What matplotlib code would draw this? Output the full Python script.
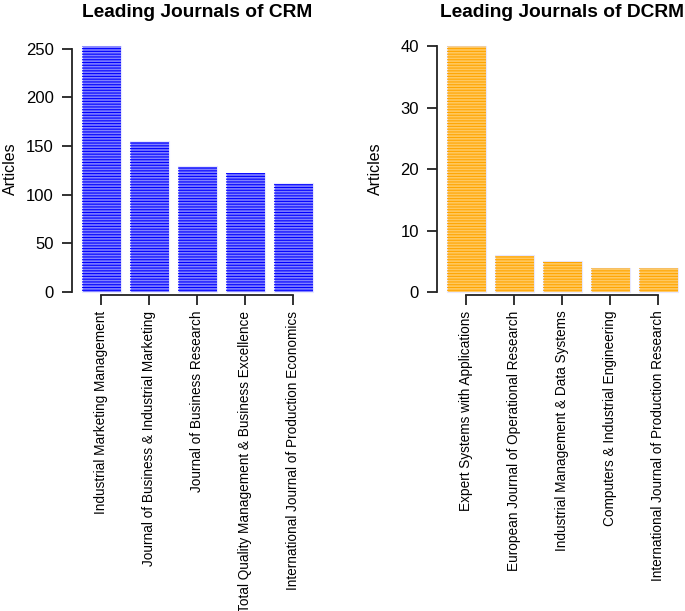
import numpy as np
import matplotlib.pyplot as plt

plt.rcParams['font.family'] = ['Liberation Sans', 'DejaVu Sans']
plt.rcParams['hatch.linewidth'] = 0.8

crm_journals = ["Industrial Marketing Management",
                "Journal of Business & Industrial Marketing",
                "Journal of Business Research",
                "Total Quality Management & Business Excellence",
                "International Journal of Production Economics"]
crm_articles = [253, 155, 130, 122, 112]

dcrm_journals = ["Expert Systems with Applications",
                 "European Journal of Operational Research",
                 "Industrial Management & Data Systems",
                 "Computers & Industrial Engineering",
                 "International Journal of Production Research"]
dcrm_articles = [40, 6, 5, 4, 4]

W, H = 685, 611
fig = plt.figure(figsize=(W / 100, H / 100), dpi=100)


def panel(left_px, names, values, title, face, line, ylim, yticks):
    ax = fig.add_axes([left_px / W, 1 - 294 / H, 250.6 / W, 251 / H])
    x = np.arange(len(values))
    # light fill first, then dense horizontal shading lines on top
    ax.bar(x, values, width=0.81, color=face, edgecolor="#e8e8ff", linewidth=0.8)
    ax.bar(x, values, width=0.81, fill=False, edgecolor=line, linewidth=0,
           hatch="------")
    ax.set_xlim(-0.61, 4.61)
    ax.set_ylim(*ylim)
    for s in ["top", "right"]:
        ax.spines[s].set_visible(False)
    ax.spines["left"].set_bounds(yticks[0], yticks[-1])
    ax.spines["bottom"].set_bounds(0, len(values) - 1)
    ax.spines["bottom"].set_position(("outward", 1))
    for s in ["left", "bottom"]:
        ax.spines[s].set_color("#222222")
        ax.spines[s].set_linewidth(1.3)
    ax.set_yticks(yticks)
    ax.set_xticks(x)
    ax.set_xticklabels(names, rotation=90, va="top", ha="center", fontsize=9.8)
    ax.tick_params(axis="both", length=7, width=1.3, color="#222222")
    ax.tick_params(axis="y", labelsize=12, pad=6)
    ax.tick_params(axis="x", pad=4)
    ax.set_ylabel("Articles", fontsize=11.5)
    ax.yaxis.set_label_coords(-0.215, 0.5)
    ax.set_title(title, fontsize=13.8, fontweight="bold", pad=19)
    return ax


panel(72, crm_journals, crm_articles, "Leading Journals of CRM",
      "#8080ff", "#0000ff", (-2, 256), [0, 50, 100, 150, 200, 250])
panel(437, dcrm_journals, dcrm_articles, "Leading Journals of DCRM",
      "#ffc860", "#ffa500", (-0.3, 40.5), [0, 10, 20, 30, 40])

fig.savefig("out.png", dpi=100)
